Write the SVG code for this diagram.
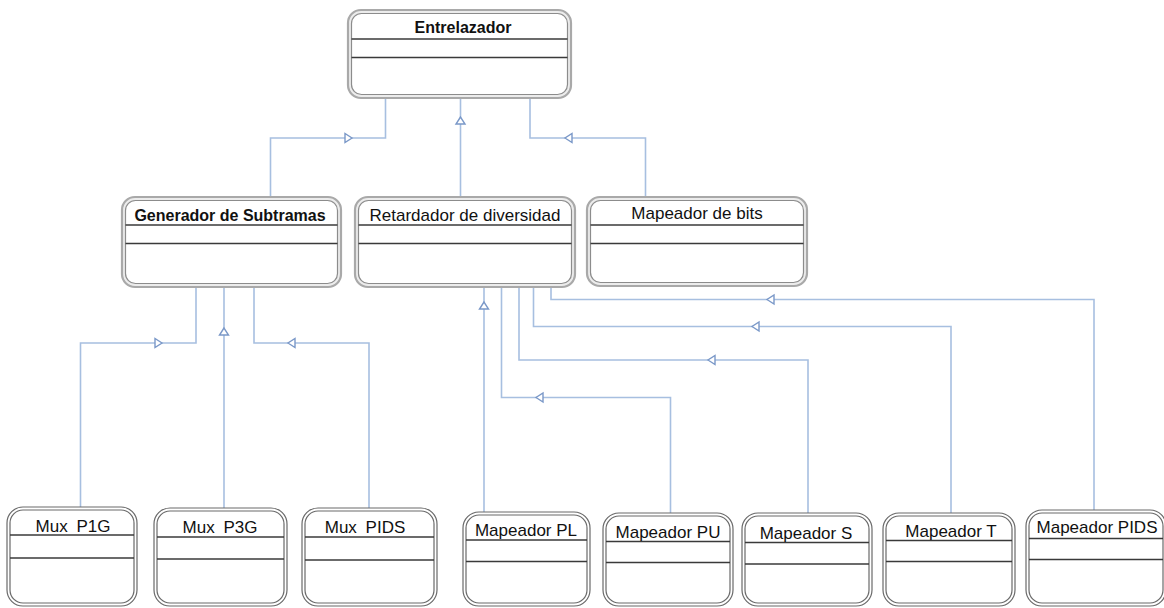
<svg xmlns="http://www.w3.org/2000/svg" width="1164" height="608" viewBox="0 0 1164 608">
  <style>
    .outer-top { fill: #ececec; stroke: #a9a9a9; stroke-width: 2.2; }
    .inner-top { fill: #ffffff; stroke: #8c8c8c; stroke-width: 1.2; }
    .outer-bot { fill: #ffffff; stroke: #6a6a6a; stroke-width: 1.2; }
    .inner-bot { fill: #ffffff; stroke: #6a6a6a; stroke-width: 1.2; }
    .sep { stroke: #3a3a3a; stroke-width: 1.6; }
    .lbl { font-family: "Liberation Sans", Arial, sans-serif; font-size: 17px; fill: #111; text-anchor: middle; }
    .bold { font-weight: bold; font-size: 16px; }
    .wire { fill: none; stroke: #a7bfe0; stroke-width: 1.6; }
    .head { fill: #ffffff; stroke: #7a98c8; stroke-width: 1.4; stroke-linejoin: miter; }
  </style>
  <defs>
    <!-- hollow generalization head, tip at origin, pointing along +x -->
    <path id="hd" class="head" d="M0,0 L-7,-4.5 L-7,4.5 Z"/>
  </defs>

  <rect width="1164" height="608" fill="#ffffff"/>

  <!-- connectors -->
  <g id="connectors">
    <!-- Entrelazador children -->
    <path class="wire" d="M385.5,98 V138 H270.5 V197"/>
    <path class="wire" d="M460.5,98 V196"/>
    <path class="wire" d="M530,98 V138 H645.5 V197"/>
    <!-- Generador de Subtramas children -->
    <path class="wire" d="M196,287 V343 H80.5 V507"/>
    <path class="wire" d="M224,287 V508"/>
    <path class="wire" d="M254,287 V343 H369 V508"/>
    <!-- Retardador de diversidad children -->
    <path class="wire" d="M484,287 V512"/>
    <path class="wire" d="M501.5,287 V397.5 H670.5 V513"/>
    <path class="wire" d="M519,287 V360 H808 V513"/>
    <path class="wire" d="M533.5,287 V326.5 H951 V513"/>
    <path class="wire" d="M551,287 V299.5 H1094 V510"/>

    <!-- heads -->
    <use href="#hd" transform="translate(352,138)"/>
    <use href="#hd" transform="translate(460.5,117) rotate(-90)"/>
    <use href="#hd" transform="translate(565,138) rotate(180)"/>
    <use href="#hd" transform="translate(162,343)"/>
    <use href="#hd" transform="translate(224,328) rotate(-90)"/>
    <use href="#hd" transform="translate(288,343) rotate(180)"/>
    <use href="#hd" transform="translate(484,302) rotate(-90)"/>
    <use href="#hd" transform="translate(536,397.5) rotate(180)"/>
    <use href="#hd" transform="translate(708,360) rotate(180)"/>
    <use href="#hd" transform="translate(752,326.5) rotate(180)"/>
    <use href="#hd" transform="translate(767,299.5) rotate(180)"/>
  </g>

  <!-- top level -->
  <g id="entrelazador">
    <rect class="outer-top" x="348" y="10" width="223" height="88" rx="13"/>
    <rect class="inner-top" x="351.5" y="13.5" width="216" height="81" rx="10"/>
    <line class="sep" x1="351.5" y1="39" x2="567.5" y2="39"/>
    <line class="sep" x1="351.5" y1="57.5" x2="567.5" y2="57.5"/>
    <text class="lbl bold" x="463" y="33">Entrelazador</text>
  </g>

  <!-- second level -->
  <g id="generador-subtramas">
    <rect class="outer-top" x="122" y="197" width="219" height="90" rx="13"/>
    <rect class="inner-top" x="125.5" y="200.5" width="212" height="83" rx="10"/>
    <line class="sep" x1="125.5" y1="225" x2="337.5" y2="225"/>
    <line class="sep" x1="125.5" y1="243.5" x2="337.5" y2="243.5"/>
    <text class="lbl bold" x="230" y="220.5">Generador de Subtramas</text>
  </g>

  <g id="retardador-diversidad">
    <rect class="outer-top" x="355" y="197" width="220" height="90" rx="13"/>
    <rect class="inner-top" x="358.5" y="200.5" width="213" height="83" rx="10"/>
    <line class="sep" x1="358.5" y1="225" x2="571.5" y2="225"/>
    <line class="sep" x1="358.5" y1="243.5" x2="571.5" y2="243.5"/>
    <text class="lbl" x="465" y="220.5">Retardador de diversidad</text>
  </g>

  <g id="mapeador-bits">
    <rect class="outer-top" x="587" y="197" width="220" height="89" rx="13"/>
    <rect class="inner-top" x="590.5" y="200.5" width="213" height="82" rx="10"/>
    <line class="sep" x1="590.5" y1="225" x2="803.5" y2="225"/>
    <line class="sep" x1="590.5" y1="243.5" x2="803.5" y2="243.5"/>
    <text class="lbl" x="697" y="218.5">Mapeador de bits</text>
  </g>

  <!-- bottom level -->
  <g id="mux-p1g">
    <rect class="outer-bot" x="7" y="507" width="130" height="99" rx="16"/>
    <rect class="inner-bot" x="10" y="510" width="124" height="93" rx="13"/>
    <line class="sep" x1="10" y1="535" x2="134" y2="535"/>
    <line class="sep" x1="10" y1="558" x2="134" y2="558"/>
    <text class="lbl" x="73" y="531.5" word-spacing="4">Mux P1G</text>
  </g>

  <g id="mux-p3g">
    <rect class="outer-bot" x="154" y="508" width="133" height="98" rx="16"/>
    <rect class="inner-bot" x="157" y="511" width="127" height="92" rx="13"/>
    <line class="sep" x1="157" y1="537" x2="284" y2="537"/>
    <line class="sep" x1="157" y1="559" x2="284" y2="559"/>
    <text class="lbl" x="220" y="533" word-spacing="4">Mux P3G</text>
  </g>

  <g id="mux-pids">
    <rect class="outer-bot" x="302" y="508" width="135" height="98" rx="16"/>
    <rect class="inner-bot" x="305" y="511" width="129" height="92" rx="13"/>
    <line class="sep" x1="305" y1="537" x2="434" y2="537"/>
    <line class="sep" x1="305" y1="560" x2="434" y2="560"/>
    <text class="lbl" x="365" y="533" word-spacing="4">Mux PIDS</text>
  </g>

  <g id="mapeador-pl">
    <rect class="outer-bot" x="463" y="512" width="127" height="94" rx="16"/>
    <rect class="inner-bot" x="466" y="515" width="121" height="88" rx="13"/>
    <line class="sep" x1="466" y1="540" x2="587" y2="540"/>
    <line class="sep" x1="466" y1="561.5" x2="587" y2="561.5"/>
    <text class="lbl" x="526" y="536">Mapeador PL</text>
  </g>

  <g id="mapeador-pu">
    <rect class="outer-bot" x="603" y="513" width="130" height="93" rx="16"/>
    <rect class="inner-bot" x="606" y="516" width="124" height="87" rx="13"/>
    <line class="sep" x1="606" y1="541.5" x2="730" y2="541.5"/>
    <line class="sep" x1="606" y1="562.5" x2="730" y2="562.5"/>
    <text class="lbl" x="668" y="537.5">Mapeador PU</text>
  </g>

  <g id="mapeador-s">
    <rect class="outer-bot" x="742" y="513" width="130" height="93" rx="16"/>
    <rect class="inner-bot" x="745" y="516" width="124" height="87" rx="13"/>
    <line class="sep" x1="745" y1="542.5" x2="869" y2="542.5"/>
    <line class="sep" x1="745" y1="564" x2="869" y2="564"/>
    <text class="lbl" x="806" y="538.5">Mapeador S</text>
  </g>

  <g id="mapeador-t">
    <rect class="outer-bot" x="883" y="513" width="132" height="93" rx="16"/>
    <rect class="inner-bot" x="886" y="516" width="126" height="87" rx="13"/>
    <line class="sep" x1="886" y1="540.5" x2="1012" y2="540.5"/>
    <line class="sep" x1="886" y1="561.5" x2="1012" y2="561.5"/>
    <text class="lbl" x="951" y="537">Mapeador T</text>
  </g>

  <g id="mapeador-pids">
    <rect class="outer-bot" x="1026" y="510" width="140" height="96" rx="16"/>
    <rect class="inner-bot" x="1029" y="513" width="134" height="90" rx="13"/>
    <line class="sep" x1="1029" y1="538.5" x2="1163" y2="538.5"/>
    <line class="sep" x1="1029" y1="559.5" x2="1163" y2="559.5"/>
    <text class="lbl" x="1097" y="532.5">Mapeador PIDS</text>
  </g>
</svg>
